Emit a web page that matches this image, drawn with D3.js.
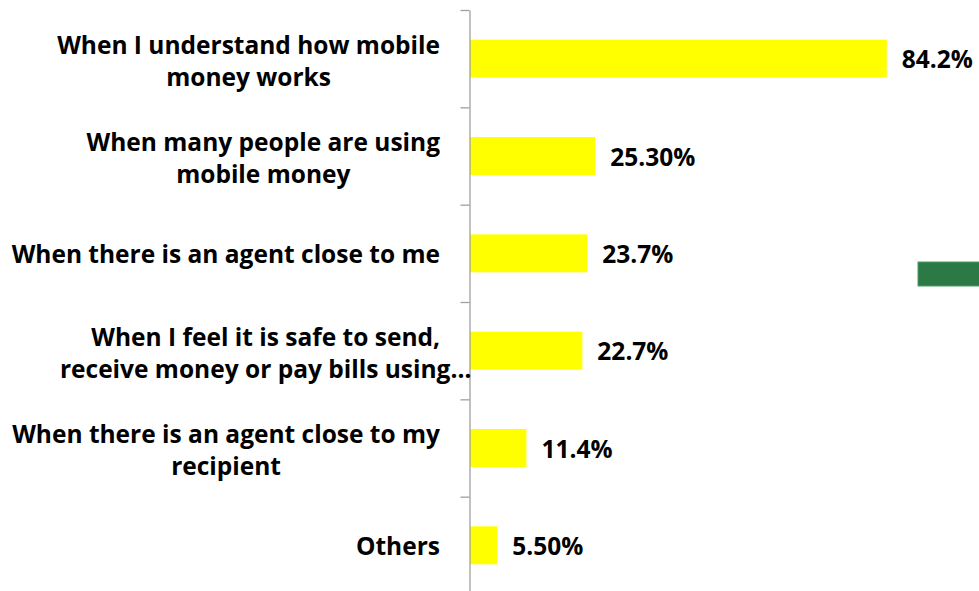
<!DOCTYPE html>
<html>
<head>
<meta charset="utf-8">
<script src="https://cdn.jsdelivr.net/npm/d3@7/dist/d3.min.js"></script>
<style>
  html, body { margin: 0; padding: 0; background: #fff; }
  svg { display: block; }
  text { font-family: "Open Sans", Lato, sans-serif; font-weight: 700; fill: #000; }
</style>
</head>
<body>
<svg id="chart" width="979" height="591"></svg>
<script>
// Reasons people would start using mobile money (% of respondents)
const categories = [
  "When I understand how mobile money works",
  "When many people are using mobile money",
  "When there is an agent close to me",
  "When I feel it is safe to send, receive money or pay bills using…",
  "When there is an agent close to my recipient",
  "Others"
];
// Category text as wrapped on the axis
const categoryLines = [
  ["When I understand how mobile", "money works"],
  ["When many people are using", "mobile money"],
  ["When there is an agent close to me"],
  ["When I feel it is safe to send,", "receive money or pay bills using…"],
  ["When there is an agent close to my", "recipient"],
  ["Others"]
];
const values = [84.2, 25.3, 23.7, 22.7, 11.4, 5.5];
const valueLabels = ["84.2%", "25.30%", "23.7%", "22.7%", "11.4%", "5.50%"];

const svg = d3.select("#chart");

const plotTop = 10, plotBottom = 594, axisX = 469.5;
const x = d3.scaleLinear().domain([0, 90]).range([axisX + 0.5, axisX + 0.5 + 445.5]);
const y = d3.scaleBand().domain(categories).range([plotTop, plotBottom])
  .paddingInner(0.61).paddingOuter(0.305);

// Bars
svg.append("g").selectAll("rect")
  .data(categories)
  .join("rect")
  .attr("x", x(0))
  .attr("y", d => y(d))
  .attr("width", (d, i) => x(values[i]) - x(0))
  .attr("height", y.bandwidth())
  .attr("fill", "#ffff00");

// Category axis: line with outward ticks between categories
const boundary = d3.scaleLinear().domain([0, categories.length]).range([plotTop, plotBottom]);
const axis = svg.append("g")
  .attr("transform", `translate(${axisX},0)`)
  .call(d3.axisLeft(boundary).tickValues(d3.range(categories.length + 1))
    .tickSize(9).tickSizeOuter(0).tickFormat(""));
axis.selectAll("path, line").attr("stroke", "#a0a0a0").attr("stroke-width", 1.3);

// Category labels: lines centred on each other, block ending near the axis
const labelRight = 440, lineGap = 32, fontSize = 24.5;
categories.forEach((c, i) => {
  const lines = categoryLines[i];
  const cy = y(c) + y.bandwidth() / 2 + (lines.length > 1 ? 1.5 : 0);
  const g = svg.append("g");
  const t = g.selectAll("text").data(lines).join("text")
    .attr("font-size", fontSize)
    .attr("text-anchor", "middle")
    .attr("dominant-baseline", "central")
    .attr("y", (d, j) => cy + (j - (lines.length - 1) / 2) * lineGap)
    .text(d => d);
  const firstW = t.node().getComputedTextLength();
  t.attr("x", labelRight - firstW / 2);
});

// Value labels
svg.append("g").selectAll("text")
  .data(categories)
  .join("text")
  .attr("x", (d, i) => x(values[i]) + 15)
  .attr("y", d => y(d) + y.bandwidth() / 2)
  .attr("dominant-baseline", "central")
  .attr("font-size", fontSize)
  .text((d, i) => valueLabels[i]);

// Legend swatch at the right edge
svg.append("rect")
  .attr("x", 918).attr("y", 262)
  .attr("width", 70).attr("height", 24)
  .attr("fill", "#2b7a46")
  .attr("stroke", "#4f9a68").attr("stroke-width", 1);
</script>
</body>
</html>
